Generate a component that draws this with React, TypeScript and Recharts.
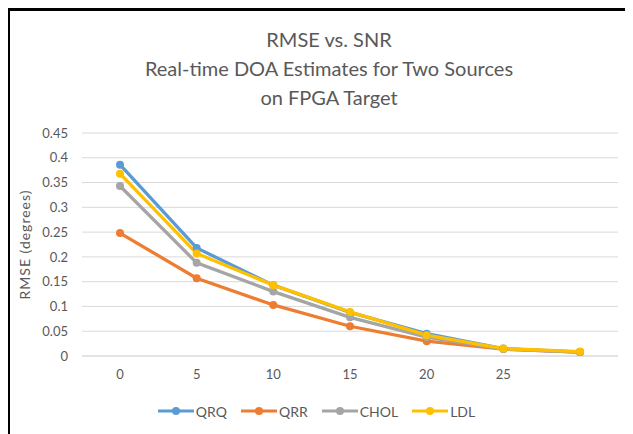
import React from 'react';
import { LineChart, Line, XAxis, YAxis, CartesianGrid } from 'recharts';

const snrLabels = ['0', '5', '10', '15', '20', '25', ''];
const qrq = [0.386, 0.218, 0.143, 0.088, 0.045, 0.015, 0.008];
const qrr = [0.248, 0.157, 0.103, 0.06, 0.03, 0.014, 0.008];
const chol = [0.343, 0.188, 0.13, 0.078, 0.038, 0.014, 0.008];
const ldl = [0.368, 0.207, 0.143, 0.089, 0.042, 0.015, 0.009];
const yTicks = [0, 0.05, 0.1, 0.15, 0.2, 0.25, 0.3, 0.35, 0.4, 0.45];
const titleLines = ['RMSE vs. SNR', 'Real-time DOA Estimates for Two Sources', 'on FPGA Target'];

const seriesList = [
    { key: 'QRQ', values: qrq, color: '#5B9BD5' },
    { key: 'QRR', values: qrr, color: '#ED7D31' },
    { key: 'CHOL', values: chol, color: '#A5A5A5' },
    { key: 'LDL', values: ldl, color: '#FFC000' },
];

const data = snrLabels.map((snr, i) => {
    const row: Record<string, string | number> = { snr };
    seriesList.forEach(s => { row[s.key] = s.values[i]; });
    return row;
});

const FONT = 'Lato, "Open Sans", sans-serif';
const TEXT = '#595959';

export default function App() {
    return (
        <div style={{ position: 'relative', width: 633, height: 434, margin: '-8px 0 0 -8px', background: '#fff', fontFamily: FONT, overflow: 'hidden' }}>
            {/* frame: only the top and left edges show */}
            <div style={{ position: 'absolute', left: 7, top: 8, width: 626, height: 3, background: '#000' }} />
            <div style={{ position: 'absolute', left: 7, top: 8, width: 3, height: 426, background: '#000' }} />

            <div style={{ position: 'absolute', top: 25, left: 0, width: 658, textAlign: 'center', color: TEXT, fontSize: 20, lineHeight: '29px' }}>
                {titleLines.map(t => <div key={t}>{t}</div>)}
            </div>

            <LineChart width={633} height={434} data={data} margin={{ top: 133, right: 15, left: 22, bottom: 48 }}>
                <CartesianGrid vertical={false} stroke="#D9D9D9" strokeWidth={1} />
                <XAxis
                    dataKey="snr"
                    padding={{ left: 38, right: 38 }}
                    axisLine={{ stroke: '#D9D9D9' }}
                    tickLine={false}
                    tickSize={0}
                    tickMargin={14}
                    height={30}
                    tick={{ fill: TEXT, fontSize: 13, fontFamily: FONT }}
                />
                <YAxis
                    width={60}
                    domain={[0, 0.45]}
                    ticks={yTicks}
                    interval={0}
                    axisLine={false}
                    tickLine={false}
                    tickSize={0}
                    tickMargin={14}
                    tick={{ fill: TEXT, fontSize: 13, fontFamily: FONT }}
                    label={{ value: 'RMSE (degrees)', angle: -90, position: 'insideLeft', offset: 3, fill: TEXT, fontSize: 14, fontFamily: FONT, style: { textAnchor: 'middle', letterSpacing: '1px' } }}
                />
                {seriesList.map(s => (
                    <Line
                        key={s.key}
                        type="linear"
                        dataKey={s.key}
                        stroke={s.color}
                        strokeWidth={3.3}
                        dot={{ r: 4, fill: s.color, stroke: s.color, strokeWidth: 0 }}
                        isAnimationActive={false}
                    />
                ))}
            </LineChart>

            <div style={{ position: 'absolute', top: 402, left: 0, width: 633, display: 'flex', justifyContent: 'center', paddingLeft: 12, boxSizing: 'border-box', color: TEXT, fontSize: 14 }}>
                {seriesList.map(s => (
                    <div key={s.key} style={{ display: 'flex', alignItems: 'center', marginRight: 13 }}>
                        <svg width={38} height={18}>
                            <line x1={1} y1={9} x2={37} y2={9} stroke={s.color} strokeWidth={3} />
                            <circle cx={19} cy={9} r={4} fill={s.color} />
                        </svg>
                        <span style={{ marginLeft: 1 }}>{s.key}</span>
                    </div>
                ))}
            </div>
        </div>
    );
}
